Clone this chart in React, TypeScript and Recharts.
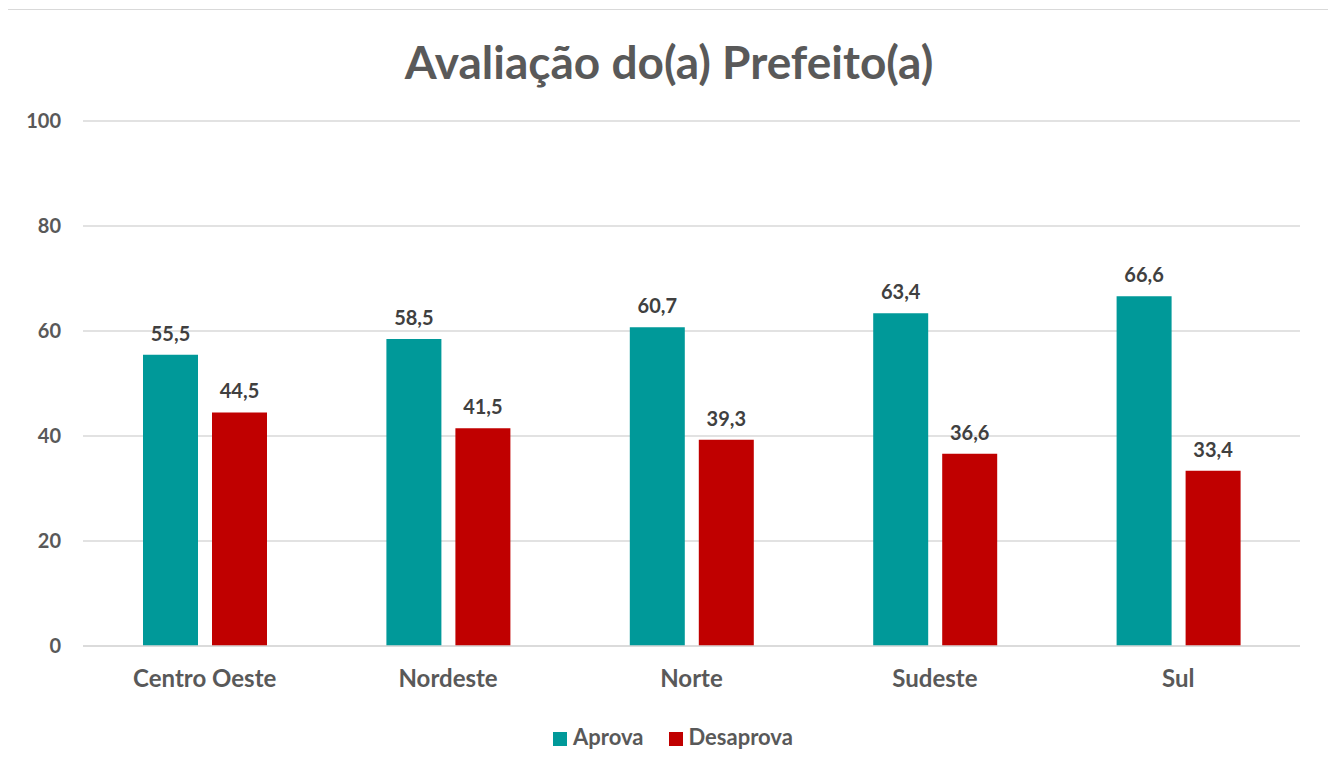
import React from "react";
import {
  BarChart,
  Bar,
  XAxis,
  YAxis,
  CartesianGrid,
  Legend,
  LabelList,
} from "recharts";

const regions = ["Centro Oeste", "Nordeste", "Norte", "Sudeste", "Sul"];
const aprova = [55.5, 58.5, 60.7, 63.4, 66.6];
const desaprova = [44.5, 41.5, 39.3, 36.6, 33.4];
const yTicks = [0, 20, 40, 60, 80, 100];

const data = regions.map((name, i) => ({
  name,
  aprova: aprova[i],
  desaprova: desaprova[i],
}));

const FONT = "Lato, 'Open Sans', sans-serif";
const fmt = (v: any) => String(v).replace(".", ",");

const App: React.FC = () => {
  return (
    <div
      style={{
        position: "relative",
        marginLeft: -1,
        marginTop: 1,
        width: 1322,
        height: 770,
        border: "1px solid #d9d9d9",
        background: "#fff",
        fontFamily: FONT,
      }}
    >
      <div
        style={{
          position: "absolute",
          top: 24,
          left: 0,
          width: "100%",
          textAlign: "center",
          fontSize: 46,
          fontWeight: 700,
          color: "#595959",
          lineHeight: "56px",
        }}
      >
        Avaliação do(a) Prefeito(a)
      </div>
      <BarChart
        width={1322}
        height={760}
        data={data}
        margin={{ top: 111, right: 30, left: 15, bottom: 7 }}
        barSize={55}
        barGap={14}
      >
        <CartesianGrid vertical={false} stroke="#d9d9d9" strokeWidth={1.5} />
        <XAxis
          dataKey="name"
          axisLine={{ stroke: "#d9d9d9", strokeWidth: 1.5 }}
          tickLine={false}
          tickMargin={18}
          height={77}
          tick={{ fill: "#595959", fontSize: 24, fontWeight: 700, fontFamily: FONT }}
        />
        <YAxis
          domain={[0, 100]}
          ticks={yTicks}
          axisLine={false}
          tickLine={false}
          tickMargin={16}
          width={60}
          tick={{ fill: "#595959", fontSize: 20, fontWeight: 700, fontFamily: FONT }}
        />
        <Legend
          verticalAlign="bottom"
          iconType="square"
          iconSize={14}
          height={40}
          wrapperStyle={{
            left: 39,
            fontSize: 22,
            fontWeight: 700,
            fontFamily: FONT,
          }}
          formatter={(value: string) => (
            <span style={{ color: "#595959", marginLeft: 2, marginRight: 15 }}>{value}</span>
          )}
        />
        <Bar dataKey="aprova" name="Aprova" fill="#009999" isAnimationActive={false}>
          <LabelList
            dataKey="aprova"
            position="top"
            offset={14}
            formatter={fmt}
            style={{ fill: "#404040", fontSize: 20, fontWeight: 700, fontFamily: FONT }}
          />
        </Bar>
        <Bar dataKey="desaprova" name="Desaprova" fill="#c00000" isAnimationActive={false}>
          <LabelList
            dataKey="desaprova"
            position="top"
            offset={14}
            formatter={fmt}
            style={{ fill: "#404040", fontSize: 20, fontWeight: 700, fontFamily: FONT }}
          />
        </Bar>
      </BarChart>
    </div>
  );
};

export default App;
